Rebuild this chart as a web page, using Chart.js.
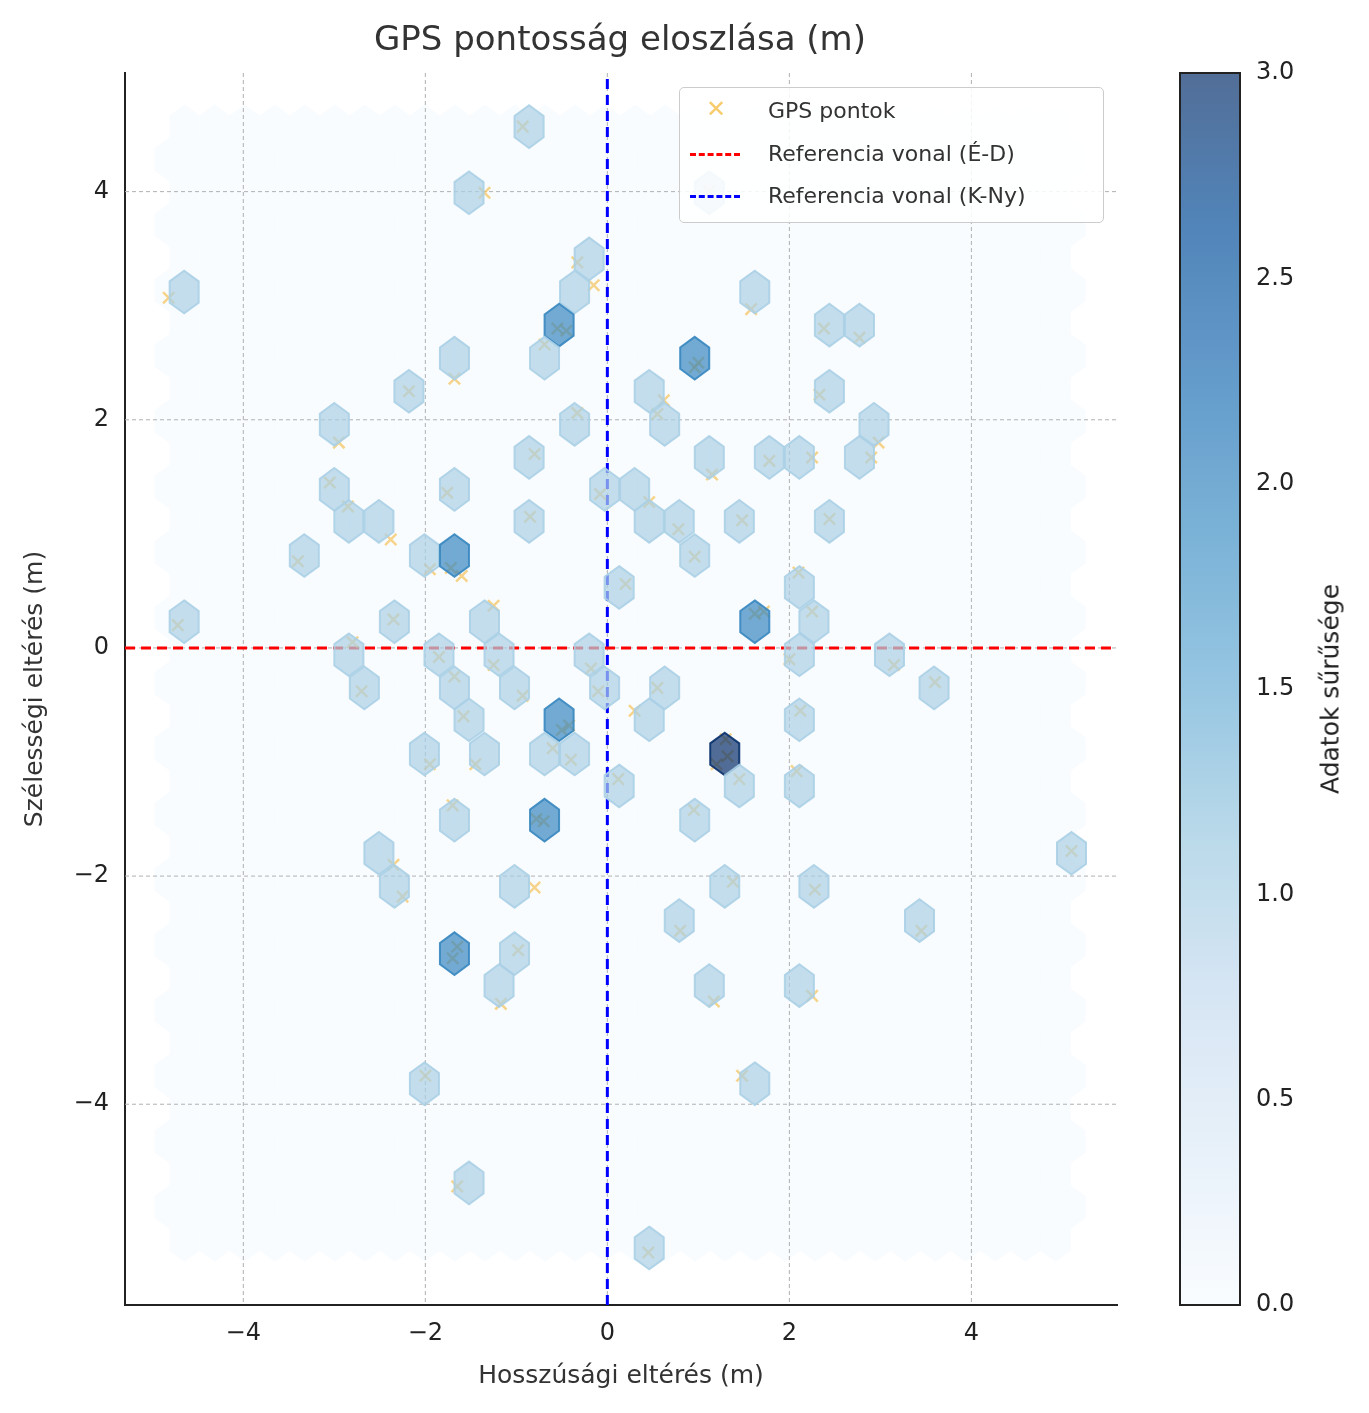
<!DOCTYPE html>
<html>
<head>
<meta charset="utf-8">
<title>GPS pontosság eloszlása</title>
<script src="https://cdn.jsdelivr.net/npm/chart.js"></script>
<style>
  body { margin: 0; background: #fff; font-family: "DejaVu Sans", sans-serif; }
  #wrap { position: relative; width: 1369px; height: 1413px; }
  #main { position: absolute; left: 0; top: 0; }
  #cbar { position: absolute; left: 1160px; top: 0; }
  #title { position: absolute; left: 320px; width: 600px; top: 18px; text-align: center; font-size: 34px; color: #333; white-space: nowrap; }
  #cbtitle { position: absolute; left: 1330px; top: 689px; transform: translate(-50%, -50%) rotate(-90deg); font-size: 25px; color: #222; white-space: nowrap; }
  #legend { position: absolute; left: 679px; top: 87px; width: 425px; height: 136px; box-sizing: border-box;
    border: 1.5px solid #ccc; border-radius: 5px; background: rgba(255,255,255,0.85); font-size: 22px; color: #333; }
  .item { position: absolute; left: 0; height: 30px; line-height: 30px; }
  .item span { position: absolute; left: 88px; white-space: nowrap; }
  .mk { position: absolute; left: 10px; top: 14px; width: 50px; border-top: 3px dashed; }
  .xk { position: absolute; left: 26px; top: -2px; color: rgba(245,185,60,0.75); font-size: 24px; }
</style>
</head>
<body>
<div id="wrap">
  <canvas id="main" width="1160" height="1413"></canvas>
  <canvas id="cbar" width="209" height="1413"></canvas>
  <div id="title">GPS pontosság eloszlása (m)</div>
  <div id="cbtitle">Adatok sűrűsége</div>
  <div id="legend">
    <div class="item" style="top:8px"><b class="xk">✕</b><span>GPS pontok</span></div>
    <div class="item" style="top:51px"><div class="mk" style="border-color:#f00"></div><span>Referencia vonal (É-D)</span></div>
    <div class="item" style="top:93px"><div class="mk" style="border-color:#00f"></div><span>Referencia vonal (K-Ny)</span></div>
  </div>
</div>
<script>
// GPS points (longitude / latitude deviation, m)
const gpsPoints = [
  [-0.93,4.57],[-1.35,3.99],[1.12,4.0],[-4.82,3.07],[-0.33,3.38],[-0.15,3.18],[1.58,2.97],
  [-0.55,2.8],[-0.45,2.78],[2.38,2.8],[2.77,2.72],[-1.68,2.36],[-0.69,2.66],[0.96,2.46],[1.0,2.5],
  [-2.18,2.25],[0.62,2.17],[2.33,2.22],[-2.95,1.8],[-0.33,2.06],[0.55,2.05],[2.98,1.8],[-0.8,1.7],
  [1.15,1.52],[1.78,1.64],[2.25,1.67],[2.9,1.67],[-3.05,1.45],[-1.76,1.36],[-0.08,1.35],[0.46,1.28],
  [-2.85,1.24],[-2.38,0.95],[-0.85,1.15],[0.78,1.04],[1.48,1.12],[2.44,1.13],[-3.4,0.76],[-1.95,0.69],
  [-1.6,0.63],[-1.72,0.7],[0.96,0.8],[0.2,0.56],[2.1,0.66],[-4.72,0.2],[-2.35,0.25],[-1.25,0.37],
  [1.62,0.3],[1.72,0.32],[2.25,0.32],[-2.8,0.05],[-1.85,-0.08],[-1.25,-0.15],[-0.18,-0.18],[2.0,-0.1],
  [3.15,-0.15],[-2.7,-0.38],[-1.68,-0.25],[-0.93,-0.42],[-0.1,-0.38],[0.55,-0.35],[3.6,-0.3],[-1.58,-0.6],
  [-0.5,-0.72],[-0.42,-0.68],[0.3,-0.55],[2.12,-0.55],[-1.95,-1.02],[-1.45,-1.02],[-0.6,-0.88],[-0.4,-0.98],
  [1.2,-1.02],[1.32,-0.95],[1.3,-0.8],[0.12,-1.15],[1.45,-1.15],[2.08,-1.08],[-1.7,-1.38],[-0.78,-1.5],
  [-0.7,-1.52],[0.95,-1.42],[-2.35,-1.9],[5.1,-1.78],[-2.25,-2.18],[-0.8,-2.1],[1.38,-2.05],[2.28,-2.12],
  [0.8,-2.48],[3.45,-2.48],[-1.7,-2.72],[-1.65,-2.62],[-0.98,-2.65],[-1.17,-3.12],[1.17,-3.1],[2.25,-3.05],
  [-2.0,-3.75],[1.48,-3.75],[-1.65,-4.72],[0.45,-5.3]
];
// occupied hex bins: [x centre, y centre, count]
const hexBins = [
  [-0.86,4.57,1],[-1.52,3.99,1],[1.12,3.99,1],[-4.65,3.12,1],[-0.2,3.41,1],[-0.36,3.12,1],[1.62,3.12,1],
  [-0.53,2.83,2],[2.44,2.83,1],[2.77,2.83,1],[-1.68,2.54,1],[-0.69,2.54,1],[0.96,2.54,2],[-2.18,2.25,1],
  [0.46,2.25,1],[2.44,2.25,1],[-3.0,1.96,1],[-0.36,1.96,1],[0.63,1.96,1],[2.93,1.96,1],[-0.86,1.67,1],
  [1.12,1.67,1],[1.78,1.67,1],[2.11,1.67,1],[2.77,1.67,1],[-3.0,1.39,1],[-1.68,1.39,1],[-0.03,1.39,1],
  [0.3,1.39,1],[-2.84,1.11,1],[-2.51,1.11,1],[-0.86,1.11,1],[0.46,1.11,1],[0.79,1.11,1],[1.45,1.11,1],
  [2.44,1.11,1],[-3.33,0.81,1],[-2.01,0.81,1],[-1.68,0.81,2],[0.96,0.81,1],[0.13,0.53,1],[2.11,0.53,1],
  [-4.65,0.23,1],[-2.34,0.23,1],[-1.35,0.23,1],[1.62,0.23,2],[2.27,0.23,1],[-2.84,-0.06,1],[-1.85,-0.06,1],
  [-1.19,-0.06,1],[-0.2,-0.06,1],[2.11,-0.06,1],[3.1,-0.06,1],[-2.67,-0.35,1],[-1.68,-0.35,1],[-1.02,-0.35,1],
  [-0.03,-0.35,1],[0.63,-0.35,1],[3.59,-0.35,1],[-1.52,-0.63,1],[-0.53,-0.63,2],[0.46,-0.63,1],[2.11,-0.63,1],
  [-2.01,-0.93,1],[-1.35,-0.93,1],[-0.69,-0.93,1],[-0.36,-0.93,1],[1.29,-0.93,3],[0.13,-1.21,1],[1.45,-1.21,1],
  [2.11,-1.21,1],[-1.68,-1.51,1],[-0.69,-1.51,2],[0.96,-1.51,1],[-2.51,-1.8,1],[5.1,-1.8,1],[-2.34,-2.09,1],
  [-1.02,-2.09,1],[1.29,-2.09,1],[2.27,-2.09,1],[0.79,-2.39,1],[3.43,-2.39,1],[-1.68,-2.68,2],[-1.02,-2.68,1],
  [-1.19,-2.96,1],[1.12,-2.96,1],[2.11,-2.96,1],[-2.01,-3.82,1],[1.62,-3.82,1],[-1.52,-4.69,1],[0.46,-5.26,1]
];
const xTicks = [-4, -2, 0, 2, 4];
const yTicks = [-4, -2, 0, 2, 4];
const cbarTicks = [0, 0.5, 1, 1.5, 2, 2.5, 3];

// hex grid geometry (data units)
const HEX_DX = 0.33, HEX_DY = 0.287;
const GRID_X0 = -4.81, GRID_X1 = 5.1, GRID_Y0 = 4.57, GRID_Y1 = -5.3;

// matplotlib "Blues"
const cmapStops = [[0,[247,251,255]],[0.125,[222,235,247]],[0.25,[198,219,239]],[0.375,[158,202,225]],
  [0.5,[107,174,214]],[0.625,[66,146,198]],[0.75,[33,113,181]],[0.875,[8,81,156]],[1,[8,48,107]]];
function cmap(v) {
  const t = Math.max(0, Math.min(1, v / 3));
  for (let i = 1; i < cmapStops.length; i++) {
    if (t <= cmapStops[i][0]) {
      const [t0, c0] = cmapStops[i-1], [t1, c1] = cmapStops[i];
      const f = (t - t0) / (t1 - t0);
      return c0.map((c, k) => Math.round(c + (c1[k] - c) * f));
    }
  }
  return cmapStops[cmapStops.length-1][1];
}
const minus = v => String(v).replace('-', '\u2212');

function hexPath(ctx, cx, cy, w, h) {
  ctx.beginPath();
  ctx.moveTo(cx, cy - h/2);
  ctx.lineTo(cx + w/2, cy - h/4);
  ctx.lineTo(cx + w/2, cy + h/4);
  ctx.lineTo(cx, cy + h/2);
  ctx.lineTo(cx - w/2, cy + h/4);
  ctx.lineTo(cx - w/2, cy - h/4);
  ctx.closePath();
}

const hexPlugin = {
  id: 'hex',
  beforeDatasetsDraw(chart) {
    const {ctx, scales: {x, y}, chartArea: a} = chart;
    const w = Math.abs(x.getPixelForValue(HEX_DX) - x.getPixelForValue(0));
    const h = Math.abs(y.getPixelForValue(HEX_DY * 4/3) - y.getPixelForValue(0));
    ctx.save();
    ctx.fillStyle = `rgba(${cmap(0)},0.7)`;
    let j = 0;
    for (let gy = GRID_Y0; gy >= GRID_Y1; gy -= HEX_DY, j++) {
      const off = (j % 2 === 0) ? HEX_DX / 2 : 0;
      for (let gx = GRID_X0 + off; gx <= GRID_X1 + 0.01; gx += HEX_DX) {
        hexPath(ctx, x.getPixelForValue(gx), y.getPixelForValue(gy), w + 0.5, h + 0.5);
        ctx.fill();
      }
    }
    // dashed grid
    ctx.strokeStyle = '#b0b0b0'; ctx.lineWidth = 1; ctx.setLineDash([4, 3]);
    xTicks.forEach(v => { const p = x.getPixelForValue(v); ctx.beginPath(); ctx.moveTo(p, a.top); ctx.lineTo(p, a.bottom); ctx.stroke(); });
    yTicks.forEach(v => { const p = y.getPixelForValue(v); ctx.beginPath(); ctx.moveTo(a.left, p); ctx.lineTo(a.right, p); ctx.stroke(); });
    ctx.restore();
  },
  afterDatasetDraw(chart, args) {
    if (args.index !== 0) return;
    const {ctx, scales: {x, y}} = chart;
    const w = Math.abs(x.getPixelForValue(HEX_DX) - x.getPixelForValue(0));
    const h = Math.abs(y.getPixelForValue(HEX_DY * 4/3) - y.getPixelForValue(0));
    ctx.save();
    hexBins.forEach(([hx, hy, n]) => {
      const c = cmap(n);
      hexPath(ctx, x.getPixelForValue(hx), y.getPixelForValue(hy), w - 1, h - 1);
      ctx.fillStyle = `rgba(${c},0.7)`;
      ctx.fill();
      ctx.strokeStyle = `rgba(${c},0.9)`;
      ctx.lineWidth = 2;
      ctx.stroke();
    });
    ctx.restore();
  }
};

const X_MIN = -5.3, X_MAX = 5.6, Y_MIN = -5.76, Y_MAX = 5.04;
const tickFont = {size: 24, family: 'DejaVu Sans'};

new Chart(document.getElementById('main'), {
  type: 'scatter',
  data: {
    datasets: [
      { label: 'GPS pontok', data: gpsPoints.map(([a, b]) => ({x: a, y: b})),
        pointStyle: 'crossRot', radius: 8, borderWidth: 2.5,
        borderColor: 'rgba(245,185,60,0.6)', backgroundColor: 'rgba(245,185,60,0.6)' },
      { label: 'Referencia vonal (É-D)', type: 'line', data: [{x: X_MIN, y: 0}, {x: X_MAX, y: 0}],
        borderColor: '#ff0000', borderWidth: 3, borderDash: [10, 6], pointRadius: 0 },
      { label: 'Referencia vonal (K-Ny)', type: 'line', data: [{x: 0, y: Y_MIN}, {x: 0, y: Y_MAX}],
        borderColor: '#0000ff', borderWidth: 3, borderDash: [10, 6], pointRadius: 0 }
    ]
  },
  options: {
    responsive: false, animation: false,
    layout: { padding: {left: 0, right: 43, top: 73, bottom: 0} },
    plugins: { legend: {display: false}, tooltip: {enabled: false} },
    scales: {
      x: { type: 'linear', min: X_MIN, max: X_MAX,
        afterBuildTicks: s => { s.ticks = xTicks.map(v => ({value: v})); },
        afterFit: s => { s.height = 108; },
        grid: {display: false},
        border: {display: true, color: '#222', width: 2},
        ticks: {color: '#222', font: tickFont, callback: v => minus(v), padding: 6},
        title: {display: true, text: 'Hosszúsági eltérés (m)', color: '#333', font: {size: 25, family: 'DejaVu Sans'}, padding: {top: 2, bottom: 22}} },
      y: { type: 'linear', min: Y_MIN, max: Y_MAX,
        afterBuildTicks: s => { s.ticks = yTicks.map(v => ({value: v})); },
        afterFit: s => { s.width = 125; },
        grid: {display: false},
        border: {display: true, color: '#222', width: 2},
        ticks: {color: '#222', font: tickFont, callback: v => minus(v), padding: 8},
        title: {display: true, text: 'Szélességi eltérés (m)', color: '#333', font: {size: 25, family: 'DejaVu Sans'}, padding: {top: 20, bottom: 4}} }
    }
  },
  plugins: [hexPlugin]
});

// colour bar
const cbarPlugin = {
  id: 'cbarFill',
  beforeDatasetsDraw(chart) {
    const {ctx, chartArea: a, scales: {y}} = chart;
    ctx.save();
    const g = ctx.createLinearGradient(0, y.getPixelForValue(0), 0, y.getPixelForValue(3));
    for (let k = 0; k <= 24; k++) g.addColorStop(k / 24, `rgba(${cmap(3 * k / 24)},0.7)`);
    ctx.fillStyle = g;
    ctx.fillRect(a.left, a.top, a.right - a.left, a.bottom - a.top);
    ctx.strokeStyle = '#222'; ctx.lineWidth = 2;
    ctx.strokeRect(a.left, a.top, a.right - a.left, a.bottom - a.top);
    ctx.restore();
  }
};
new Chart(document.getElementById('cbar'), {
  type: 'scatter',
  data: { datasets: [{ data: [] }] },
  options: {
    responsive: false, animation: false,
    layout: { padding: {left: 20, right: 0, top: 73, bottom: 108} },
    plugins: {legend: {display: false}, tooltip: {enabled: false}},
    scales: {
      x: { display: false, min: 0, max: 1 },
      y: { position: 'right', min: 0, max: 3,
        afterBuildTicks: s => { s.ticks = cbarTicks.map(v => ({value: v})); },
        afterFit: s => { s.width = 129; },
        grid: {display: false}, border: {display: false},
        ticks: {color: '#222', font: tickFont, callback: v => v.toFixed(1), padding: 8} }
    }
  },
  plugins: [cbarPlugin]
});
</script>
</body>
</html>
